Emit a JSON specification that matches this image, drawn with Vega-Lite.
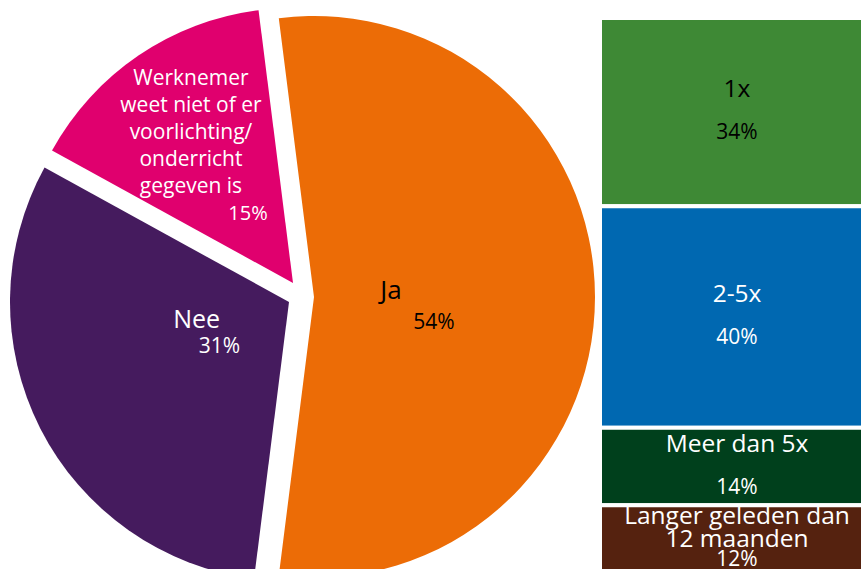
{
  "$schema": "https://vega.github.io/schema/vega-lite/v6.json",
  "padding": 0,
  "spacing": 0,
  "resolve": {"scale": {"color": "independent", "theta": "independent", "y": "independent", "x": "independent"}},
  "config": {"view": {"stroke": null}, "font": "Open Sans", "text": {"font": "Open Sans"}},
  "hconcat": [
    {
      "width": 600,
      "height": 569,
      "data": {"values": [
        {"cat": "Ja", "label": "Ja", "value": 0.54, "ord": 1},
        {"cat": "Nee", "label": "Nee", "value": 0.31, "ord": 2},
        {"cat": "Werknemer", "label": "Werknemer\nweet niet of er\nvoorlichting/\nonderricht\ngegeven is", "value": 0.15, "ord": 3}
      ]},
      "encoding": {
        "theta": {"field": "value", "type": "quantitative", "stack": true, "scale": {"range": [-0.12566, 6.15752]}},
        "order": {"field": "ord", "type": "quantitative"}
      },
      "layer": [
        {
          "mark": {"type": "arc", "outerRadius": 281, "xOffset": 14, "yOffset": 12.5},
          "encoding": {
            "color": {"field": "cat", "type": "nominal", "legend": null, "scale": {"domain": ["Ja", "Nee", "Werknemer"], "range": ["#EC6C06", "#451B5E", "#E0006E"]}},
            "opacity": {"condition": {"test": "datum.cat === 'Ja'", "value": 1}, "value": 0}
          }
        },
        {
          "mark": {"type": "arc", "outerRadius": 279, "xOffset": -11, "yOffset": 17.5},
          "encoding": {
            "color": {"field": "cat", "type": "nominal", "legend": null},
            "opacity": {"condition": {"test": "datum.cat === 'Nee'", "value": 1}, "value": 0}
          }
        },
        {
          "mark": {"type": "arc", "outerRadius": 275, "xOffset": -7, "yOffset": -1.5},
          "encoding": {
            "color": {"field": "cat", "type": "nominal", "legend": null},
            "opacity": {"condition": {"test": "datum.cat === 'Werknemer'", "value": 1}, "value": 0}
          }
        },
        {
          "mark": {"type": "text", "radius": 91, "dy": 14.5, "fontSize": 26, "align": "center", "baseline": "alphabetic", "color": "#000000"},
          "encoding": {"text": {"condition": {"test": "datum.cat === 'Ja'", "field": "label"}, "value": ""}}
        },
        {
          "mark": {"type": "text", "radius": 134, "dy": 44.5, "fontSize": 21, "align": "center", "baseline": "alphabetic", "color": "#000000"},
          "encoding": {"text": {"condition": {"test": "datum.cat === 'Ja'", "field": "value", "format": ".0%"}, "value": ""}}
        },
        {
          "mark": {"type": "text", "radius": 116, "dy": -9, "fontSize": 25, "align": "center", "baseline": "alphabetic", "color": "#ffffff"},
          "encoding": {"text": {"condition": {"test": "datum.cat === 'Nee'", "field": "label"}, "value": ""}}
        },
        {
          "mark": {"type": "text", "radius": 90.3, "dy": 27.5, "fontSize": 21, "align": "center", "baseline": "alphabetic", "color": "#ffffff"},
          "encoding": {"text": {"condition": {"test": "datum.cat === 'Nee'", "field": "value", "format": ".0%"}, "value": ""}}
        },
        {
          "mark": {"type": "text", "radius": 194, "dy": -39, "fontSize": 21, "lineHeight": 27, "lineBreak": "\n", "align": "center", "baseline": "alphabetic", "color": "#ffffff"},
          "encoding": {"text": {"condition": {"test": "datum.cat === 'Werknemer'", "field": "label"}, "value": ""}}
        },
        {
          "mark": {"type": "text", "radius": 92.5, "dy": 12, "fontSize": 20, "align": "center", "baseline": "alphabetic", "color": "#ffffff"},
          "encoding": {"text": {"condition": {"test": "datum.cat === 'Werknemer'", "field": "value", "format": ".0%"}, "value": ""}}
        }
      ]
    },
    {
      "width": 263,
      "height": 569,
      "data": {"values": [
        {"cat": "1x", "value": 0.34, "ord": 1},
        {"cat": "2-5x", "value": 0.40, "ord": 2},
        {"cat": "Meer dan 5x", "value": 0.14, "ord": 3},
        {"cat": "Langer geleden dan\n12 maanden", "value": 0.12, "ord": 4}
      ]},
      "encoding": {
        "x": {"datum": "bar", "type": "nominal", "axis": null, "scale": {"paddingInner": 0, "paddingOuter": 0}}
      },
      "layer": [
        {
          "mark": {"type": "bar", "stroke": "#ffffff", "strokeWidth": 4, "clip": true},
          "encoding": {
            "y": {"field": "value", "type": "quantitative", "stack": "zero", "axis": null, "scale": {"domain": [-0.0327, 0.995], "reverse": true, "nice": false, "zero": false}},
            "order": {"field": "ord", "type": "quantitative"},
            "color": {"field": "cat", "type": "nominal", "legend": null, "scale": {"domain": ["1x", "2-5x", "Meer dan 5x", "Langer geleden dan\n12 maanden"], "range": ["#3E8935", "#0068B1", "#00401C", "#55220F"]}}
          }
        },
        {
          "transform": [
            {"stack": "value", "groupby": [], "sort": [{"field": "ord"}], "as": ["s0", "s1"]},
            {"calculate": "(datum.s0 + datum.s1) / 2", "as": "mid"}
          ],
          "layer": [
            {
              "mark": {"type": "text", "dx": 5.5, "dy": -15, "fontSize": 24.5, "lineHeight": 23, "lineBreak": "\n", "align": "center", "baseline": "alphabetic"},
              "encoding": {
                "y": {"field": "mid", "type": "quantitative", "axis": null, "scale": {"domain": [-0.0327, 0.995], "reverse": true, "nice": false, "zero": false}},
                "text": {"field": "cat"},
                "color": {"condition": {"test": "datum.cat === '1x'", "value": "#000000"}, "value": "#ffffff"}
              }
            },
            {
              "mark": {"type": "text", "dx": 5.5, "dy": 27, "fontSize": 21, "align": "center", "baseline": "alphabetic"},
              "encoding": {
                "y": {"field": "mid", "type": "quantitative", "axis": null},
                "text": {"field": "value", "format": ".0%"},
                "color": {"condition": {"test": "datum.cat === '1x'", "value": "#000000"}, "value": "#ffffff"}
              }
            }
          ]
        }
      ]
    }
  ]
}
